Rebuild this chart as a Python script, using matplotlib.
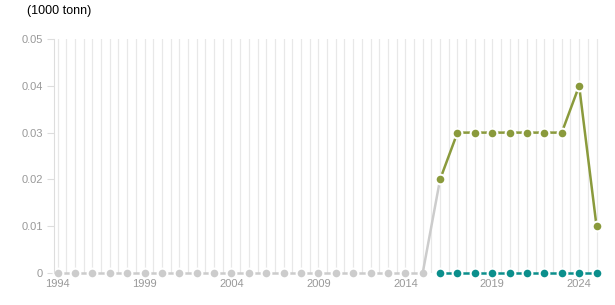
import numpy as np
import matplotlib
matplotlib.use("Agg")
import matplotlib.pyplot as plt

plt.rcParams["font.family"] = ["Liberation Sans", "DejaVu Sans"]

# ............................................
# DATA (1000 tonn)
# ............................................
years_gray = list(range(1994, 2017))
values_gray = [0.0] * 22 + [0.02]

years_new = list(range(2016, 2026))
values_olive = [0.02, 0.03, 0.03, 0.03, 0.03, 0.03, 0.03, 0.03, 0.04, 0.01]
values_teal = [0.0] * 10

x_ticks = [1994, 1999, 2004, 2009, 2014, 2019, 2024]
y_ticks = [0, 0.01, 0.02, 0.03, 0.04, 0.05]
y_labels = ["0", "0.01", "0.02", "0.03", "0.04", "0.05"]

GRAY = "#cccccc"
OLIVE = "#8a9a3c"
TEAL = "#0b8f8c"
TICK = "#999999"

# ............................................
# FIGURE
# ............................................
fig = plt.figure(figsize=(6.15, 3.05), dpi=100)
ax = fig.add_axes([0.0881, 0.105, 0.896, 0.767])

# vertical gridlines every half year
for gx in np.arange(1994, 2025.01, 0.5):
    ax.axvline(gx, color="#e8e8e8", lw=0.9, zorder=0)

style = dict(marker="o", markersize=7, markeredgecolor="white",
             markeredgewidth=1.5, lw=1.8, clip_on=False)

ax.plot(years_gray[:-1], values_gray[:-1], color=GRAY, zorder=2, **style)
ax.plot(years_gray[-2:], values_gray[-2:], color=GRAY, lw=1.8, zorder=2)
ax.plot(years_new, values_olive, color=OLIVE, zorder=3, **style)
ax.plot(years_new, values_teal, color=TEAL, zorder=4, **style)

ax.set_xlim(1993.8, 2025.5)
ax.set_ylim(0, 0.05)

ax.set_xticks(x_ticks)
ax.set_xticklabels([str(t) for t in x_ticks])
ax.set_yticks(y_ticks)
ax.set_yticklabels(y_labels)

ax.tick_params(axis="x", length=0, pad=4, labelsize=8, labelcolor=TICK)
ax.tick_params(axis="y", length=5, width=0.8, color="#dddddd", pad=3,
               labelsize=8, labelcolor=TICK)

for side in ["top", "right", "bottom"]:
    ax.spines[side].set_visible(False)
ax.spines["left"].set_color("#dddddd")
ax.spines["left"].set_linewidth(0.8)

fig.text(0.044, 0.985, "(1000 tonn)", fontsize=9, color="black",
         ha="left", va="top")

fig.savefig("out.png", dpi=100)
plt.close(fig)
